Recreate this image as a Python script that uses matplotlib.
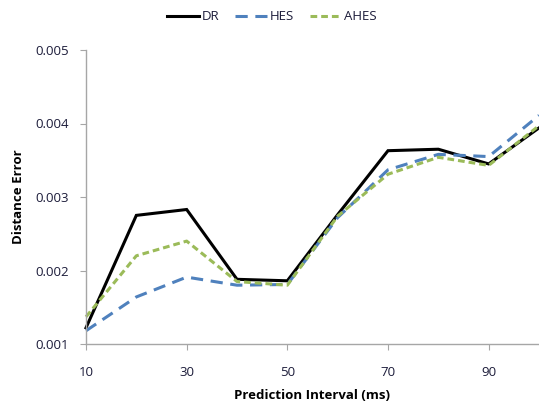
import numpy as np
import matplotlib.pyplot as plt

x = [10, 20, 30, 40, 50, 60, 70, 80, 90, 100]
dr = [0.00122, 0.00275, 0.00283, 0.00188, 0.00186, 0.00276, 0.00363, 0.00365, 0.00345, 0.00394]
hes = [0.00118, 0.00164, 0.00191, 0.00180, 0.00181, 0.00272, 0.00337, 0.00358, 0.00355, 0.00411]
ahes = [0.00137, 0.00220, 0.00240, 0.00185, 0.00180, 0.00274, 0.00331, 0.00354, 0.00343, 0.00397]
xticks = [10, 30, 50, 70, 90]
yticks = [0.001, 0.002, 0.003, 0.004, 0.005]

plt.rcParams['font.family'] = ['Open Sans', 'DejaVu Sans']
txt = '#1c1c3a'
grey = '#a6a6a6'

fig = plt.figure(figsize=(5.39, 4.07), dpi=100)
ax = fig.add_axes([86 / 539, 1 - 344 / 407, (539 - 86) / 539, (344 - 50) / 407])

ax.plot(x, dr, color='black', lw=2.2, label='DR', solid_joinstyle='miter', clip_on=False)
ax.plot(x, hes, color='#4F81BD', lw=2.2, dashes=(4, 2.5), label='HES', clip_on=False)
ax.plot(x, ahes, color='#9BBB59', lw=2.2, dashes=(2.2, 1.3), label='AHES', clip_on=False)

ax.set_xlim(10, 100)
ax.set_ylim(0.001, 0.005)
ax.set_xticks(xticks)
ax.set_xticklabels([str(t) for t in xticks])
ax.set_yticks(yticks)
ax.set_yticklabels([f'{t:.3f}' for t in yticks])

for s in ['top', 'right']:
    ax.spines[s].set_visible(False)
for s in ['left', 'bottom']:
    ax.spines[s].set_color(grey)
    ax.spines[s].set_linewidth(1)
ax.tick_params(axis='both', colors=grey, labelcolor=txt, labelsize=9.5, length=4, direction='out')
ax.tick_params(axis='x', pad=12)
ax.tick_params(axis='y', pad=8)

ax.set_xlabel('Prediction Interval (ms)', fontsize=9.5, fontweight='bold', color='black', labelpad=7)
ax.set_ylabel('Distance Error', fontsize=9.5, fontweight='bold', color='black', labelpad=8)

leg = fig.legend(loc='center', bbox_to_anchor=(272 / 539, 1 - 17 / 407), ncol=3, frameon=False,
                 fontsize=9.5, handlelength=2.4, columnspacing=1.2, handletextpad=0.2)
for t in leg.get_texts():
    t.set_color(txt)

fig.savefig('out.png', dpi=100)
